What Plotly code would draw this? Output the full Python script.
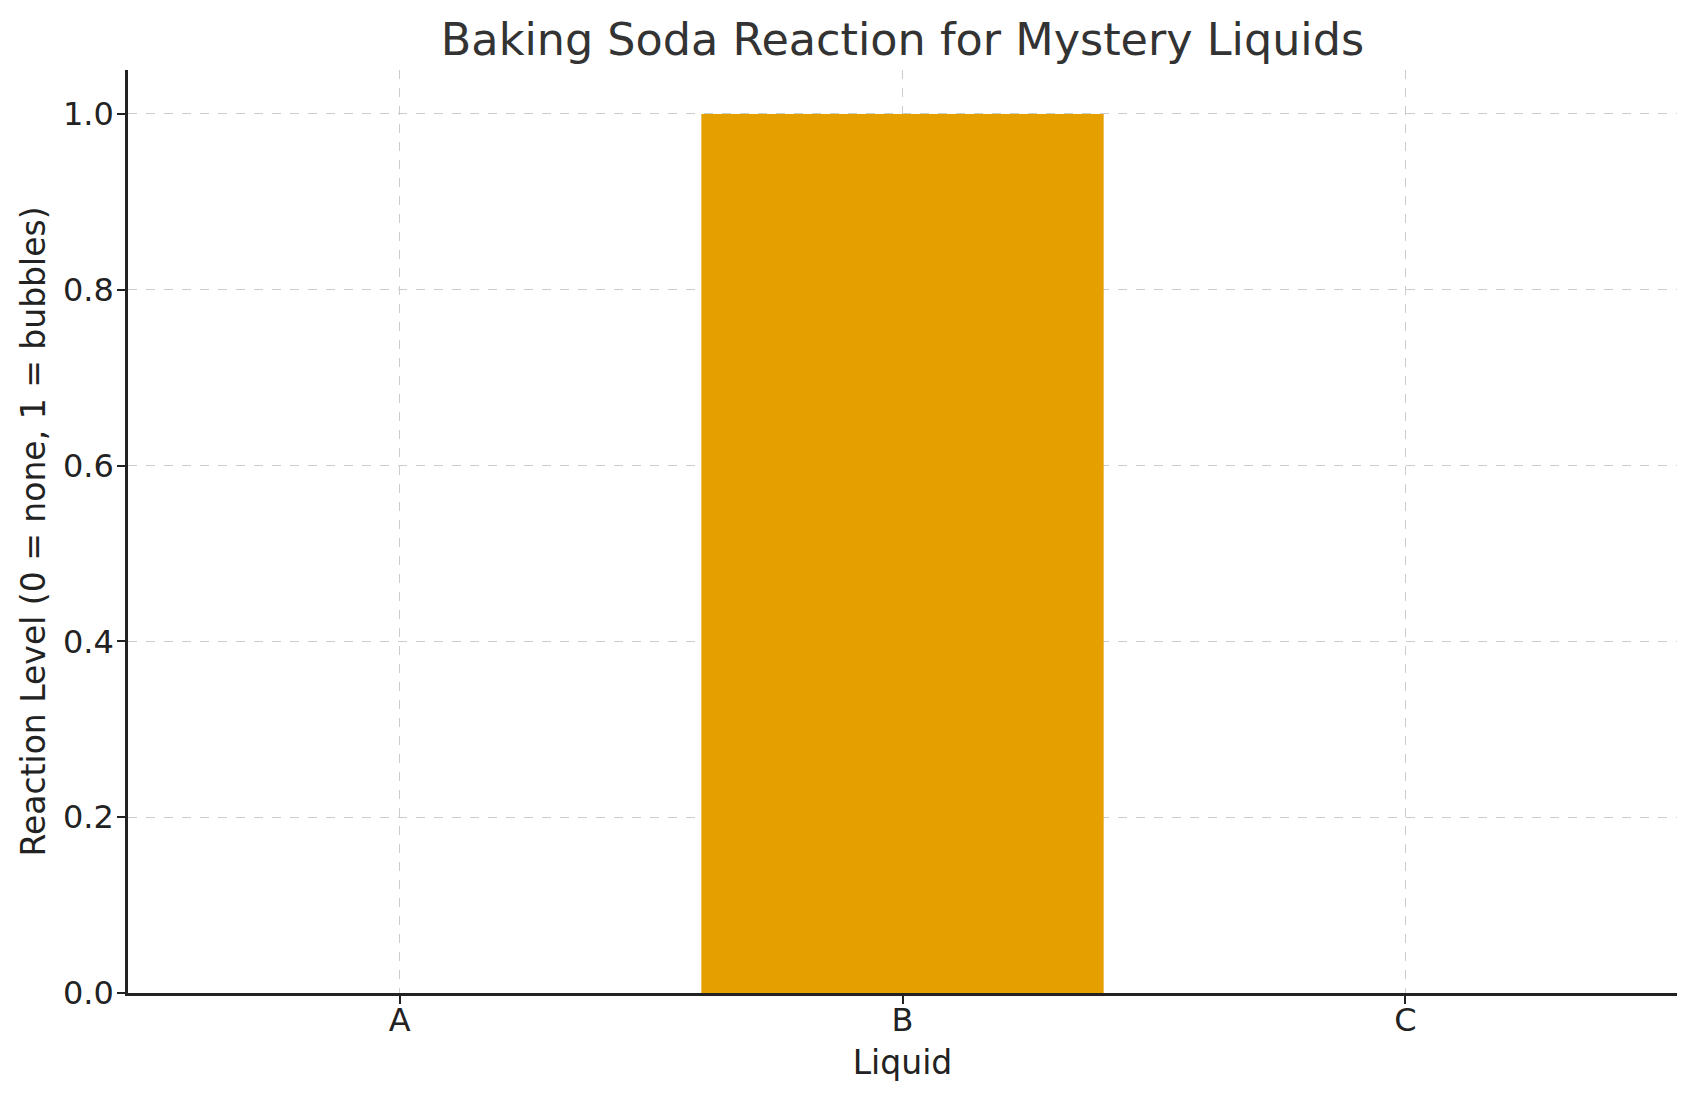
import plotly.graph_objects as go

liquids = ["A", "B", "C"]
reaction = [0, 1, 0]
y_ticks = [0.0, 0.2, 0.4, 0.6, 0.8, 1.0]
y_tick_labels = ["0.0", "0.2", "0.4", "0.6", "0.8", "1.0"]

fig = go.Figure(
    go.Bar(
        x=[0, 1, 2],
        y=reaction,
        width=0.8,
        marker=dict(color="#E5A000", line=dict(width=0)),
    )
)

font = "DejaVu Sans, sans-serif"
H = 1093
fig.update_layout(
    width=1689,
    height=H,
    margin=dict(l=120, r=20, t=62, b=108),
    paper_bgcolor="white",
    plot_bgcolor="white",
    showlegend=False,
    font=dict(family=font, size=32, color="#222222"),
    title=dict(
        text="Baking Soda Reaction for Mystery Liquids",
        x=0.5,
        xref="paper",
        xanchor="center",
        y=1 - 31 / H,
        yanchor="middle",
        font=dict(size=44.5, color="#333333", family=font),
    ),
)

fig.update_xaxes(
    range=[-0.54, 2.54],
    tickmode="array",
    tickvals=[0, 1, 2],
    ticktext=liquids,
    showgrid=True,
    gridcolor="#cccccc",
    griddash="dash",
    gridwidth=1.2,
    showline=True,
    linecolor="#222222",
    linewidth=2.5,
    ticks="outside",
    ticklen=8,
    tickwidth=1.5,
    tickcolor="#222222",
    ticklabelstandoff=-11,
    zeroline=False,
    title=dict(text="Liquid", standoff=13, font=dict(size=33, color="#222222")),
)

fig.update_yaxes(
    range=[0, 1.05],
    tickmode="array",
    tickvals=y_ticks,
    ticktext=y_tick_labels,
    showgrid=True,
    gridcolor="#cccccc",
    griddash="dash",
    gridwidth=1.2,
    showline=True,
    linecolor="#222222",
    linewidth=2.5,
    ticks="outside",
    ticklen=8,
    tickwidth=1.5,
    tickcolor="#222222",
    ticklabelstandoff=-3,
    zeroline=False,
    title=dict(text="Reaction Level (0 = none, 1 = bubbles)", standoff=8, font=dict(size=33, color="#222222")),
)

fig.write_html("out.html")
